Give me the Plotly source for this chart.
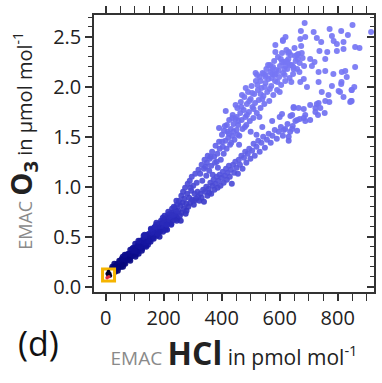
import plotly.graph_objects as go

# ---------------- data ----------------
trunk_x = [18,20,23,25,27,30,33,34,37,40, 42,44,47,49,52,54,56,59,61,64,
           66,68,71,73,76,78,80,83,85,88, 90,92,95,97,100,102,104,107,109,112,
           114,116,119,121,124,126,128,131,133,136, 138,140,143,145,148,150,152,155,157,160,
           162,164,167,169,172,174,176,179,181,184, 186,188,191,193,196,198,200,203,205,208,
           210,212,215,217,220,222,224,227,229,232, 234,236,239,241,244,246,248,
           22,29,36,45,51,58,63,70,75,82, 87,94,99,105,111,118,123,130,135,141,
           147,153,159,165,171,177,183,190,195,201, 207,213,219,225,231,237,243,
           60,66,79,92,103,113,125,134,146,156, 166,175,187,197,206,216,226,235,245,110,
           140,170,200,230,120,150,180,210,85,100]
trunk_y = [0.16,0.12,0.20,0.17,0.15,0.23,0.15,0.21,0.19,0.23, 0.16,0.22,0.26,0.21,0.24,0.20,0.28,0.30,0.25,0.24,
           0.29,0.23,0.32,0.30,0.28,0.33,0.31,0.28,0.37,0.32, 0.34,0.31,0.39,0.35,0.33,0.43,0.32,0.40,0.37,0.43,
           0.33,0.41,0.46,0.39,0.42,0.38,0.47,0.51,0.43,0.41, 0.48,0.40,0.52,0.49,0.46,0.53,0.50,0.45,0.57,0.50,
           0.53,0.49,0.59,0.54,0.52,0.62,0.51,0.59,0.55,0.63, 0.50,0.61,0.66,0.57,0.61,0.55,0.67,0.71,0.62,0.59,
           0.68,0.57,0.72,0.68,0.64,0.73,0.68,0.63,0.78,0.69, 0.72,0.67,0.79,0.73,0.70,0.82,0.68,
           0.18,0.19,0.17,0.19,0.26,0.22,0.28,0.27,0.31,0.33, 0.30,0.36,0.38,0.36,0.39,0.42,0.45,0.44,0.49,0.45,
           0.50,0.48,0.54,0.55,0.57,0.55,0.58,0.60,0.64,0.61, 0.66,0.65,0.70,0.71,0.74,0.72,0.76,
           0.20,0.32,0.27,0.38,0.30,0.46,0.36,0.52,0.42,0.58, 0.48,0.64,0.55,0.69,0.57,0.75,0.62,0.80,0.66,0.35,
           0.44,0.60,0.64,0.72,0.40,0.46,0.53,0.62,0.26,0.36]

trans_x = [251,253,256,258,261,262,265,267,270,271, 274,276,278,281,283,285,288,290,292,295,
           297,299,302,304,307,309,312,314,317,320, 244,259,279,293,306,319]
trans_y = [0.76,0.86,0.71,0.81,0.91,0.74,0.84,0.95,0.78,0.88, 0.99,0.73,0.83,0.93,1.03,0.80,0.89,1.06,0.84,0.96,
           1.10,0.87,1.01,0.82,0.93,1.13,0.88,1.04,0.95,1.17, 0.86,0.66,0.76,0.99,0.86,0.90]

upper_x = [326,331,333,339,341,347,349,352,357,359, 364,367,369,374,377,379,385,387,391,393,
           397,401,404,407,411,413,417,420,423,426, 429,432,436,438,441,444,447,451,454,457,
           461,464,466,469,472,476,478,482,485,487, 491,494,497,500,503,506,509,512,515,518,
           521,525,528,531,534,537,541,544,547,551, 554,557,561,564,567,571,574,578,581,584,
           588,591,594,598,601,605,608,612,615,619, 623,626,630,634,638,642,646,651,655,660,
           664,669,674,679,684,
           611,620,585,517,483,448,414,437,391,408, 560,640,600,530,470,455,
           345,362,383,402,418,433,452,468,480,495, 510,523,540,552,566,577,592,604,617,632,
           647,662,676,425,458,505,548,572,596,628, 653,441,487,534,582,616]
upper_y = [1.13,1.22,1.06,1.18,1.27,1.11,1.24,1.31,1.16,1.28, 1.21,1.35,1.12,1.30,1.24,1.41,1.33,1.19,1.45,1.38,
           1.27,1.52,1.40,1.33,1.61,1.46,1.38,1.55,1.49,1.67, 1.42,1.58,1.51,1.72,1.63,1.47,1.68,1.57,1.79,1.62,
           1.51,1.74,1.85,1.67,1.58,1.77,1.90,1.70,1.62,1.83, 1.95,1.75,1.66,1.88,2.01,1.80,1.69,1.93,1.84,2.06,
           1.74,1.97,1.87,2.10,1.79,1.99,2.14,1.91,1.83,2.04, 2.18,1.95,2.08,1.86,2.22,2.01,2.13,1.92,2.26,2.06,
           2.17,1.97,2.30,2.10,2.21,2.02,2.34,2.14,2.25,2.06, 2.37,2.18,2.28,2.09,2.32,2.22,2.13,2.39,2.26,2.18,
           2.33,2.24,2.41,2.29,2.21,
           2.47,2.50,2.42,2.14,1.99,1.82,1.76,1.69,1.59,1.56, 2.22,2.05,1.95,1.70,1.92,1.52,
           1.20,1.30,1.25,1.45,1.62,1.44,1.70,1.80,1.60,1.86, 1.78,2.02,1.88,2.12,1.98,2.20,2.05,2.28,2.12,2.35,
           2.20,2.28,2.34,1.53,1.66,1.94,2.00,2.09,2.16,2.24, 2.31,1.55,1.72,1.93,2.12,2.18]

lower_x = [323,327,331,336,339,343,347,351,355,357, 361,364,368,372,375,379,383,386,389,393,
           396,400,404,407,411,415,418,421,425,428, 432,435,439,443,447,451,456,459,463,468,
           472,477,481,485,490,495,499,505,510,514, 520,526,531,537,543,549,556,562,569,575,
           583,590,597,604,611,619,627,636,645,654, 631,631,660]
lower_y = [0.86,0.93,0.89,0.97,0.85,0.95,1.00,0.91,0.98,0.94, 1.04,0.93,1.01,1.07,0.97,1.03,1.10,0.99,1.06,1.12,
           1.01,1.09,1.15,1.04,1.11,1.18,1.07,1.14,1.21,1.10, 1.17,1.03,1.22,1.14,1.25,1.19,1.13,1.27,1.22,1.31,
           1.18,1.29,1.35,1.24,1.33,1.38,1.28,1.36,1.43,1.31, 1.40,1.46,1.35,1.44,1.50,1.39,1.47,1.53,1.44,1.51,
           1.57,1.48,1.55,1.60,1.51,1.58,1.63,1.55,1.61,1.66, 1.46,1.50,1.56]

spread_x = [686,673,671,688,611,717,728,743,772,780, 786,812,820,835,851,860,875,915,797,737,
            764,797,820,705,720,711,757,585,629,660, 608,620,637,648,624,574,568,585,545,522,
            534,551,668,683,671,694,734,757,785,814, 826,860,831,734,780,812,857,745,768,808,
            848,846,820,728,740,755,723,705,648,688, 669,643,608,574,614,643,
            637,660,683,688,705,732,648,683,723,734, 771,843,848,803,813,848,757,665,500,540,600,460,520]
spread_y = [2.64,2.56,2.48,2.50,2.46,2.55,2.49,2.45,2.58,2.51, 2.46,2.56,2.45,2.52,2.62,2.40,2.39,2.55,2.43,2.36,
            2.35,2.36,2.38,2.28,2.25,2.21,2.28,2.35,2.34,2.32, 2.25,2.21,2.22,2.18,2.26,2.18,2.15,2.13,2.13,2.12,
            2.06,2.10,2.15,2.08,2.05,2.00,2.15,2.16,2.13,2.15, 2.16,2.20,2.10,2.05,2.01,2.03,2.00,1.95,1.92,1.95,
            1.97,1.86,1.90,1.83,1.79,1.74,1.75,1.82,1.80,1.72, 1.68,1.72,1.73,1.66,1.57,1.58,
            1.71,1.67,1.69,1.66,1.67,1.72,1.79,1.78,1.79,1.84, 1.85,1.85,1.86,1.96,2.05,1.97,1.86,1.79,1.55,1.60,1.70,1.42,1.52]

# highlighted points inside the orange box
hl_dark_x = [6, 10, 14, 9, 16]
hl_dark_y = [0.13, 0.15, 0.13, 0.11, 0.11]
hl_red_x = [5, 11]
hl_red_y = [0.09, 0.10]

x_ticks = [0, 200, 400, 600, 800]
y_ticks = [0.0, 0.5, 1.0, 1.5, 2.0, 2.5]

# ---------------- figure ----------------
all_x = trunk_x + trans_x + upper_x + lower_x + spread_x
all_y = trunk_y + trans_y + upper_y + lower_y + spread_y

fig = go.Figure()
fig.add_trace(go.Scatter(
    x=all_x, y=all_y, mode="markers",
    marker=dict(size=6, color=all_y, cmin=0, cmax=2.0,
                colorscale=[[0, "#00004a"], [0.1, "#06067a"], [0.2, "#12129a"], [0.3, "#2626b6"],
                            [0.45, "#4242ce"], [0.6, "#5a5ae2"], [0.75, "#6a6aee"], [1, "#7676f4"]],
                opacity=0.92, line=dict(width=0)),
    showlegend=False, hoverinfo="skip"))

hx = hl_dark_x + hl_red_x
hy = hl_dark_y + hl_red_y
fig.add_trace(go.Scatter(
    x=[sum(hx) / len(hx)], y=[sum(hy) / len(hy)], mode="markers",
    marker=dict(symbol="square", size=12, color="white",
                line=dict(color="#f5b400", width=3)),
    showlegend=False, hoverinfo="skip"))
fig.add_trace(go.Scatter(x=hl_dark_x, y=hl_dark_y, mode="markers",
                         marker=dict(size=4, color="#000028"), showlegend=False, hoverinfo="skip"))
fig.add_trace(go.Scatter(x=hl_red_x, y=hl_red_y, mode="markers",
                         marker=dict(size=3.5, color="#e03040"), showlegend=False, hoverinfo="skip"))
# dummy trace to display the right-hand (inside-tick) axis
fig.add_trace(go.Scatter(x=[None], y=[None], yaxis="y2", showlegend=False, hoverinfo="skip"))

fam = "Open Sans, Arial, sans-serif"
tick_font = dict(family=fam, size=20, color="#222222")
axcol = "#333333"

fig.update_layout(
    width=382, height=383,
    margin=dict(l=94, r=6, t=14, b=91),
    paper_bgcolor="white", plot_bgcolor="white",
    font=dict(family=fam),
    xaxis=dict(range=[-40, 925], tickvals=x_ticks, ticks="outside", ticklen=7, tickwidth=1.5,
               tickcolor=axcol, showline=True, linecolor=axcol, linewidth=1.5, mirror="allticks",
               showgrid=False, zeroline=False, tickfont=tick_font,
               minor=dict(dtick=50, tick0=0, ticks="outside", ticklen=4, tickwidth=1.2, tickcolor=axcol),
               title=dict(text="<span style='color:#8a8a8a;font-size:19px'>EMAC</span> "
                               "<b style='font-size:32px'>HCl</b> in pmol mol<sup>-1</sup>",
                          font=dict(size=21, color="#222222"), standoff=12)),
    yaxis=dict(range=[-0.053, 2.72], tickvals=y_ticks, tickformat=".1f", ticks="outside", ticklen=7,
               tickwidth=1.5, tickcolor=axcol, showline=True, linecolor=axcol, linewidth=1.5, mirror=True,
               showgrid=False, zeroline=False, tickfont=tick_font,
               minor=dict(dtick=0.1, tick0=0, ticks="outside", ticklen=4, tickwidth=1.2, tickcolor=axcol)),
    yaxis2=dict(overlaying="y", side="right", matches="y", range=[-0.053, 2.72], tickvals=y_ticks,
                ticks="inside", ticklen=7, tickwidth=1.5, tickcolor=axcol, showticklabels=False,
                showline=False, showgrid=False, zeroline=False,
                minor=dict(dtick=0.1, tick0=0, ticks="inside", ticklen=4, tickwidth=1.2, tickcolor=axcol)),
    annotations=[
        dict(text="<span style='color:#8a8a8a;font-size:18px'>EMAC</span> "
                  "<b style='font-size:29px'>O<sub>3</sub></b> in μmol mol<sup>-1</sup>",
             xref="paper", yref="paper", x=-0.258, y=0.545, textangle=-90,
             xanchor="center", yanchor="middle", showarrow=False,
             font=dict(size=20, color="#222222", family=fam)),
        dict(text="(d)", xref="paper", yref="paper", x=-0.2, y=-0.185,
             xanchor="center", yanchor="middle", showarrow=False,
             font=dict(size=34, color="#111111", family=fam)),
    ],
)

fig.write_html("out.html")
